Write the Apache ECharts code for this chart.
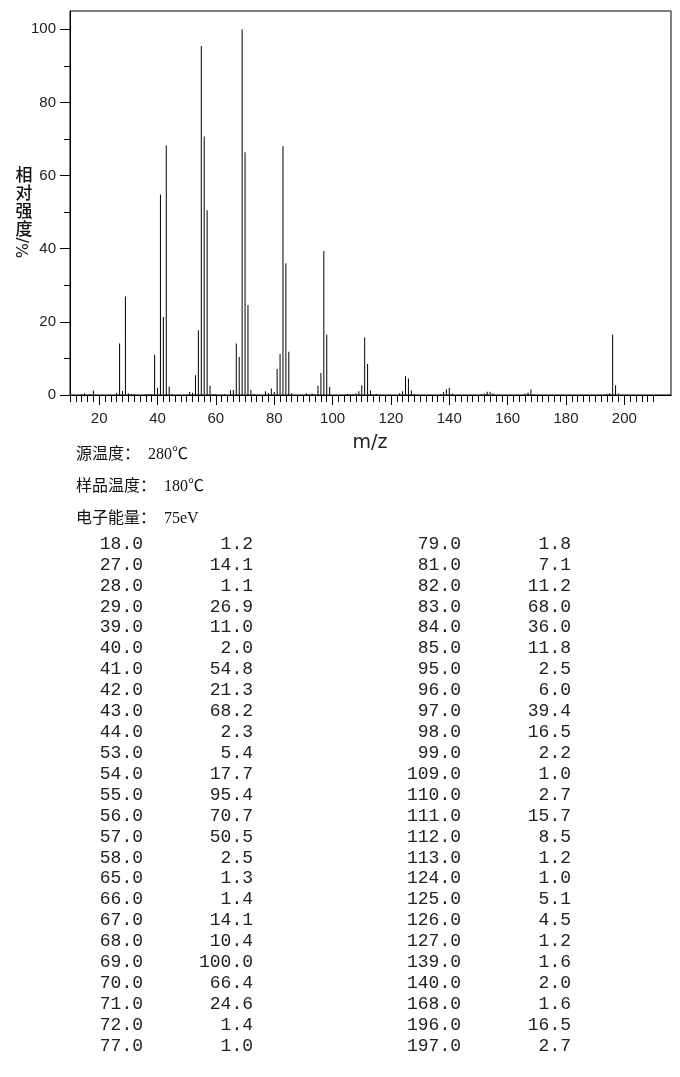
<!DOCTYPE html>
<html>
<head>
<meta charset="utf-8">
<script src="https://cdn.jsdelivr.net/npm/echarts@6.0.0/dist/echarts.min.js"></script>
<style>
    html, body { margin: 0; padding: 0; background: #fff; }
    #main { width: 680px; height: 1077px; }
</style>
</head>
<body>
<div id="main"></div>
<script>
// table peaks (m/z, relative intensity)
let leftMz = [18, 27, 28, 29, 39, 40, 41, 42, 43, 44, 53, 54, 55, 56, 57, 58, 65, 66, 67, 68, 69, 70, 71, 72, 77];
let leftInt = [1.2, 14.1, 1.1, 26.9, 11.0, 2.0, 54.8, 21.3, 68.2, 2.3, 5.4, 17.7, 95.4, 70.7, 50.5, 2.5, 1.3, 1.4, 14.1, 10.4, 100.0, 66.4, 24.6, 1.4, 1.0];
let rightMz = [79, 81, 82, 83, 84, 85, 95, 96, 97, 98, 99, 109, 110, 111, 112, 113, 124, 125, 126, 127, 139, 140, 168, 196, 197];
let rightInt = [1.8, 7.1, 11.2, 68.0, 36.0, 11.8, 2.5, 6.0, 39.4, 16.5, 2.2, 1.0, 2.7, 15.7, 8.5, 1.2, 1.0, 5.1, 4.5, 1.2, 1.6, 2.0, 1.6, 16.5, 2.7];

// weak peaks (< 1%) read off the spectrum, not listed in the table
let smallMz = [14, 15, 17, 26, 30, 31, 32, 36, 37, 38, 45, 50, 51, 52, 59, 60, 63, 73, 78, 80, 86, 91, 92, 93, 94,
    105, 106, 107, 108, 114, 115, 123, 128, 137, 138, 141, 151, 152, 153, 154, 155, 166, 167, 169, 194, 195, 198];
let smallInt = [0.3, 0.5, 0.3, 0.6, 0.5, 0.3, 0.2, 0.2, 0.3, 0.3, 0.3, 0.3, 0.8, 0.6, 0.3, 0.3, 0.3, 0.3, 0.5, 0.8, 0.5, 0.5, 0.3, 0.4, 0.3,
    0.3, 0.3, 0.3, 0.5, 0.3, 0.3, 0.5, 0.3, 0.3, 0.8, 0.4, 0.3, 0.4, 0.9, 0.9, 0.4, 0.4, 0.7, 0.3, 0.3, 0.5, 0.4];

// axis ticks
let xMajor = [20, 40, 60, 80, 100, 120, 140, 160, 180, 200];
let xMinor = [10, 12, 14, 16, 18, 20, 22, 24, 26, 28, 30, 32, 34, 36, 38, 40, 42, 44, 46, 48, 50, 52, 54, 56, 58, 60,
    62, 64, 66, 68, 70, 72, 74, 76, 78, 80, 82, 84, 86, 88, 90, 92, 94, 96, 98, 100, 102, 104, 106, 108, 110,
    112, 114, 116, 118, 120, 122, 124, 126, 128, 130, 132, 134, 136, 138, 140, 142, 144, 146, 148, 150, 152,
    154, 156, 158, 160, 162, 164, 166, 168, 170, 172, 174, 176, 178, 180, 182, 184, 186, 188, 190, 192, 194,
    196, 198, 200, 202, 204, 206, 208, 210];
let yMajor = [0, 20, 40, 60, 80, 100];
let yMinor = [10, 30, 50, 70, 90];

let infoLines = ['源温度：  280℃', '样品温度：  180℃', '电子能量：  75eV'];

function getPeaks(){
    let peaks = [];
    for (let t = 0; t <= leftMz.length - 1; t++){
        peaks.push([leftMz[t], leftInt[t]]);
    }
    for (let t = 0; t <= rightMz.length - 1; t++){
        peaks.push([rightMz[t], rightInt[t]]);
    }
    for (let t = 0; t <= smallMz.length - 1; t++){
        peaks.push([smallMz[t], smallInt[t]]);
    }
    peaks.sort(function (a, b) { return a[0] - b[0]; });
    return peaks;
}

function tableText(){
    let items = [];
    const monoFont = '18px "Liberation Mono", "DejaVu Sans Mono", monospace';
    const cols = [
        [143, leftMz],
        [253, leftInt],
        [461, rightMz],
        [571, rightInt]
    ];
    for (let c = 0; c <= cols.length - 1; c++){
        for (let t = 0; t <= cols[c][1].length - 1; t++){
            items.push({
                type: 'text',
                x: cols[c][0],
                y: 544 + t * 20.92,
                style: {
                    text: cols[c][1][t].toFixed(1),
                    font: monoFont,
                    fill: '#222',
                    textAlign: 'right',
                    textVerticalAlign: 'middle'
                }
            });
        }
    }
    return items;
}

function infoText(){
    let items = [];
    for (let t = 0; t <= infoLines.length - 1; t++){
        items.push({
            type: 'text',
            x: 76,
            y: 455 + t * 32,
            style: {
                text: infoLines[t],
                font: '16px "Liberation Serif", "Noto Sans CJK SC", serif',
                fill: '#111',
                textAlign: 'left',
                textVerticalAlign: 'middle'
            }
        });
    }
    return items;
}

let mainchart = echarts.init(document.getElementById('main'), null, { renderer: 'canvas' });

let axisFont = {
    fontFamily: '"Liberation Sans", "DejaVu Sans", sans-serif',
    fontSize: 15,
    color: '#222'
};

let chart_config = {
    backgroundColor: '#fff',
    animation: false,
    grid: {
        left: 70,
        right: 9,
        top: 11,
        bottom: 682,
        show: true,
        borderColor: '#000',
        borderWidth: 1
    },
    xAxis: [{
        type: 'value',
        min: 10,
        max: 216,
        position: 'bottom',
        axisLine: { lineStyle: { color: '#000', width: 1 } },
        axisTick: { show: true, length: 7, customValues: xMinor, lineStyle: { color: '#000' } },
        axisLabel: { show: false },
        splitLine: { show: false }
    }, {
        type: 'value',
        min: 10,
        max: 216,
        position: 'bottom',
        axisLine: { lineStyle: { color: '#000', width: 1 } },
        axisTick: { show: true, length: 10, customValues: xMajor, lineStyle: { color: '#000' } },
        axisLabel: Object.assign({ margin: 16, customValues: xMajor }, axisFont),
        splitLine: { show: false }
    }],
    yAxis: [{
        type: 'value',
        min: 0,
        max: 105,
        position: 'left',
        axisLine: { show: true, lineStyle: { color: '#000', width: 1 } },
        axisTick: { show: true, length: 6, customValues: yMinor, lineStyle: { color: '#000' } },
        axisLabel: { show: false },
        splitLine: { show: false }
    }, {
        type: 'value',
        min: 0,
        max: 105,
        position: 'left',
        axisLine: { show: true, lineStyle: { color: '#000', width: 1 } },
        axisTick: { show: true, length: 10, customValues: yMajor, lineStyle: { color: '#000' } },
        axisLabel: Object.assign({ margin: 14, customValues: yMajor }, axisFont),
        splitLine: { show: false }
    }],
    series: [{
        name: 'peaks',
        type: 'bar',
        xAxisIndex: 0,
        yAxisIndex: 0,
        data: getPeaks(),
        barWidth: 1,
        itemStyle: { color: '#000' },
        silent: true
    }],
    graphic: [].concat([{
        type: 'text',
        x: 24,
        y: 166,
        style: {
            text: '相\n对\n强\n度',
            font: '500 17px "Noto Sans CJK SC", sans-serif',
            lineHeight: 18,
            fill: '#111',
            textAlign: 'center',
            textVerticalAlign: 'top'
        }
    }, {
        type: 'text',
        x: 24,
        y: 248,
        rotation: Math.PI / 2,
        style: {
            text: '%/',
            font: '16px "DejaVu Sans", sans-serif',
            fill: '#111',
            textAlign: 'center',
            textVerticalAlign: 'middle'
        }
    }, {
        type: 'text',
        x: 370,
        y: 443,
        style: {
            text: 'm/z',
            font: '19px "DejaVu Sans", sans-serif',
            fill: '#222',
            textAlign: 'center',
            textVerticalAlign: 'middle'
        }
    }], infoText(), tableText())
};

mainchart.setOption(chart_config);
</script>
</body>
</html>
